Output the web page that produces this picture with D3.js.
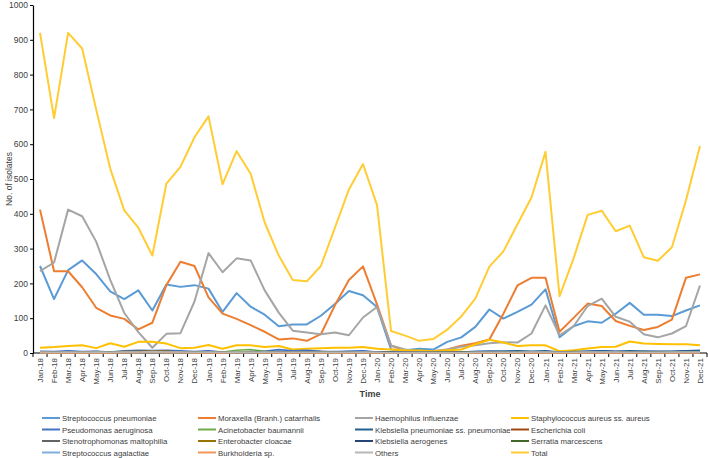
<!DOCTYPE html>
<html><head><meta charset="utf-8">
<script src="https://cdn.jsdelivr.net/npm/d3@7"></script>
<style>
html,body{margin:0;padding:0;background:#fff;}
svg{display:block;font-family:"Liberation Sans",Arial,sans-serif;}
</style></head>
<body><svg id="c" width="708" height="458"></svg>
<script>
const months = ["Jan-18","Feb-18","Mar-18","Apr-18","May-18","Jun-18","Jul-18","Aug-18","Sep-18","Oct-18","Nov-18","Dec-18",
"Jan-19","Feb-19","Mar-19","Apr-19","May-19","Jun-19","Jul-19","Aug-19","Sep-19","Oct-19","Nov-19","Dec-19",
"Jan-20","Feb-20","Mar-20","Apr-20","May-20","Jun-20","Jul-20","Aug-20","Sep-20","Oct-20","Nov-20","Dec-20",
"Jan-21","Feb-21","Mar-21","Apr-21","May-21","Jun-21","Jul-21","Aug-21","Sep-21","Oct-21","Nov-21","Dec-21"];
const yTicks = [0,100,200,300,400,500,600,700,800,900,1000];

const strepPneumoniae = [250,155,238,266,227,177,155,180,122,197,190,195,185,118,172,133,110,77,82,82,107,141,178,166,132,10,8,12,10,32,45,75,125,99,118,139,183,45,77,91,87,113,144,110,110,106,122,137];
const moraxella = [412,235,235,189,130,108,98,68,87,195,262,250,160,113,98,80,61,39,42,35,54,137,210,249,140,21,8,5,5,10,21,28,39,113,194,216,216,61,101,142,135,92,78,66,75,96,216,226];
const haemophilus = [235,260,412,393,320,210,115,60,15,55,57,148,287,232,272,266,180,116,64,59,54,59,51,102,132,22,10,5,5,10,18,22,28,31,30,56,137,51,77,135,156,104,90,54,45,56,77,194];
const staphAureus = [15,17,20,22,14,28,18,32,32,27,14,15,23,12,22,22,17,20,10,12,14,15,15,17,12,10,8,7,5,8,10,25,38,30,20,22,22,5,8,13,17,18,33,27,26,25,25,22];
const pseudomonas = [5,4,6,4,5,3,6,8,7,8,6,4,6,3,4,3,5,10,6,8,5,4,5,6,3,2,1,1,2,2,3,4,5,5,4,3,4,2,3,5,6,4,4,5,5,4,6,7];
const acinetobacter = [1,1,2,1,1,2,2,3,2,2,1,1,2,3,8,10,5,3,2,2,1,1,1,2,1,1,0,0,0,1,1,1,2,2,2,2,3,1,2,2,3,3,2,4,3,2,2,3];
const klebPneumoniae = [3,3,4,3,4,2,4,5,4,3,3,3,4,3,3,4,4,5,3,4,4,3,4,4,3,2,1,1,1,2,3,4,5,5,6,5,6,3,4,5,6,5,6,5,4,5,6,7];
const ecoli = [2,1,2,2,1,2,3,4,5,4,3,2,2,1,2,2,2,3,2,2,2,3,3,2,2,1,0,0,0,1,1,1,2,2,1,2,2,1,1,2,2,2,2,2,3,2,2,3];
const stenotrophomonas = [1,1,1,1,1,1,1,2,2,2,1,1,1,1,1,1,1,1,1,1,1,1,1,1,1,1,0,0,0,0,1,1,1,1,1,1,1,1,1,1,1,1,1,1,1,1,1,1];
const enterobacter = [2,2,2,3,2,3,4,4,5,5,3,3,2,3,3,3,2,2,2,3,3,3,2,2,2,1,1,0,1,1,1,2,2,2,2,2,2,1,2,2,2,2,2,2,2,2,2,2];
const klebAerogenes = [1,1,1,1,1,1,1,1,1,1,1,1,1,1,1,1,1,1,1,1,1,1,2,2,3,3,2,1,1,1,1,1,2,2,1,1,1,1,1,1,1,1,1,1,1,1,1,1];
const serratia = [1,1,1,1,1,2,1,1,1,1,1,1,1,2,2,2,1,1,1,1,1,1,1,1,1,1,0,0,0,0,1,1,1,1,1,1,2,1,1,2,2,2,1,2,2,3,2,2];
const strepAgalactiae = [1,1,1,1,1,1,1,1,1,1,1,1,1,1,1,1,1,1,1,1,1,1,1,1,1,0,0,0,0,0,0,1,1,1,1,1,1,1,1,1,1,1,1,1,1,1,1,1];
const burkholderia = [0,0,0,1,0,0,1,1,2,1,1,0,0,0,1,1,0,0,0,0,0,0,0,0,0,0,0,0,0,0,0,0,0,0,0,0,0,0,0,0,0,0,0,0,0,0,0,0];
const others = [3,2,3,2,3,2,3,3,4,3,3,2,3,2,3,2,3,2,2,2,2,2,2,3,2,1,1,1,1,1,1,2,2,2,2,3,3,2,2,3,3,3,2,2,2,3,3,3];
const total = [920,675,920,875,700,530,410,360,280,487,535,620,680,485,580,515,375,280,210,206,250,360,470,543,425,63,50,35,40,67,105,156,248,292,370,447,578,163,272,397,409,350,366,275,265,304,438,595];

const series = [
  {name:"Streptococcus pneumoniae", values:strepPneumoniae, color:"#5B9BD5"},
  {name:"Moraxella (Branh.) catarrhalis", values:moraxella, color:"#ED7D31"},
  {name:"Haemophilus influenzae", values:haemophilus, color:"#A5A5A5"},
  {name:"Staphylococcus aureus ss. aureus", values:staphAureus, color:"#FFC000"},
  {name:"Pseudomonas aeruginosa", values:pseudomonas, color:"#4472C4"},
  {name:"Acinetobacter baumannii", values:acinetobacter, color:"#70AD47"},
  {name:"Klebsiella pneumoniae ss. pneumoniae", values:klebPneumoniae, color:"#255E91"},
  {name:"Escherichia coli", values:ecoli, color:"#9E480E"},
  {name:"Stenotrophomonas maltophilia", values:stenotrophomonas, color:"#636363"},
  {name:"Enterobacter cloacae", values:enterobacter, color:"#997300"},
  {name:"Klebsiella aerogenes", values:klebAerogenes, color:"#264478"},
  {name:"Serratia marcescens", values:serratia, color:"#43682B"},
  {name:"Streptococcus agalactiae", values:strepAgalactiae, color:"#7CAFDD"},
  {name:"Burkholderia sp.", values:burkholderia, color:"#F1975A"},
  {name:"Others", values:others, color:"#B7B7B7"},
  {name:"Total", values:total, color:"#FFCD33"}
];

const svg = d3.select("#c");
const L = 33, R = 707, T = 5, B = 353;
const x = d3.scaleBand().domain(months).range([L, R]).padding(0);
const y = d3.scaleLinear().domain([0, 1000]).range([B, T]);
const cx = d => x(d) + x.bandwidth()/2;

// Y axis
const yAxis = svg.append("g").attr("transform", `translate(${L},0)`)
  .call(d3.axisLeft(y).tickValues(yTicks).tickFormat(d3.format("d")).tickSize(3).tickPadding(2).tickSizeOuter(0));
yAxis.select(".domain").attr("stroke", "#000").attr("stroke-width", 1.2);
yAxis.selectAll(".tick line").attr("stroke", "#000");
yAxis.selectAll(".tick text").attr("fill", "#404040").attr("font-size", "8.5px")
  .attr("font-family", "'Liberation Sans',Arial,sans-serif");

// X axis: ticks between categories
const xAxis = svg.append("g").attr("transform", `translate(0,${B})`);
xAxis.append("line").attr("x1", L).attr("x2", R).attr("y1", 0).attr("y2", 0)
  .attr("stroke", "#000").attr("stroke-width", 1.2);
xAxis.selectAll("line.tk").data(months.concat(["__end"])).enter().append("line")
  .attr("class","tk")
  .attr("x1", (d,i) => i < months.length ? x(d) : R)
  .attr("x2", (d,i) => i < months.length ? x(d) : R)
  .attr("y1", 0).attr("y2", 4).attr("stroke", "#000");
xAxis.selectAll("text").data(months).enter().append("text")
  .attr("transform", d => `translate(${cx(d)+3},5) rotate(-90)`)
  .attr("text-anchor", "end")
  .attr("fill", "#404040").attr("font-size", "8px")
  .text(d => d);

// Axis titles
svg.append("text").attr("transform", `translate(12,${(T+B)/2}) rotate(-90)`)
  .attr("text-anchor","middle").attr("font-size","8.5px").attr("fill","#404040")
  .text("No. of isolates");
svg.append("text").attr("x", (L+R)/2).attr("y", 397)
  .attr("text-anchor","middle").attr("font-size","9px").attr("font-weight","bold").attr("fill","#404040")
  .text("Time");

// Lines
const line = d3.line().x((d,i) => cx(months[i])).y(d => y(d));
const big = new Set(["Streptococcus pneumoniae","Moraxella (Branh.) catarrhalis","Haemophilus influenzae","Staphylococcus aureus ss. aureus","Total"]);
svg.append("g").selectAll("path").data(series).enter().append("path")
  .attr("d", s => line(s.values))
  .attr("fill","none").attr("stroke", s => s.color)
  .attr("stroke-width", s => big.has(s.name) ? 2 : 1.6)
  .attr("stroke-linejoin","round");

// Legend
const colX = [42, 198, 355, 511];
const rowY = [418, 429.5, 441, 452.5];
const lg = svg.append("g").selectAll("g").data(series).enter().append("g")
  .attr("transform", (s,i) => `translate(${colX[i%4]},${rowY[Math.floor(i/4)]})`);
lg.append("line").attr("x1",0).attr("x2",18).attr("y1",0).attr("y2",0)
  .attr("stroke", s => s.color).attr("stroke-width", 2);
lg.append("text").attr("x", 20).attr("y", 3).attr("font-size","7.8px").attr("fill","#404040")
  .text(s => s.name);
</script></body></html>
